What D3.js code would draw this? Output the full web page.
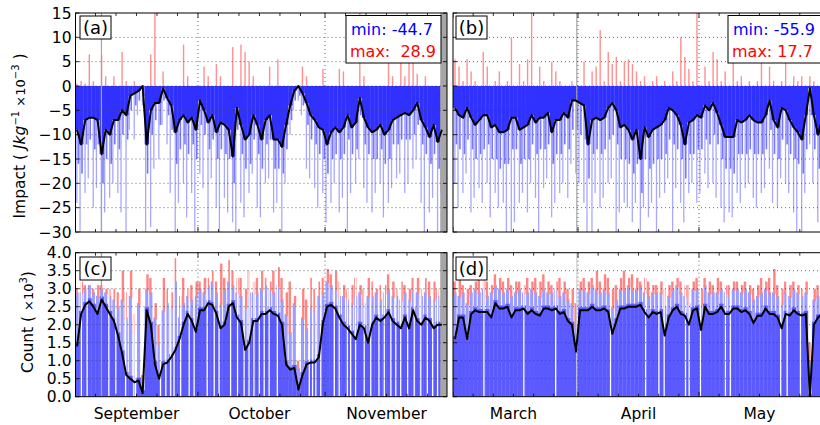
<!DOCTYPE html>
<html>
<head>
<meta charset="utf-8">
<script src="https://cdn.jsdelivr.net/npm/d3@7"></script>
<style>
body { margin: 0; background: #fff; }
svg text { font-family: "DejaVu Sans", sans-serif; }
</style>
</head>
<body>
<svg id="chart" width="820" height="425"></svg>
<script>
// ---- autumn (Sep 1 .. Nov 29), one value per day ----
const aMean = [-9,-12,-7,-6.5,-6.5,-7,-14,-9,-10,-7, -7,-5,-6,-2,-1.5,-1,0,-12,-5,-3.5,
  -3.5,-0.5,-2.5,-4,-9.5,-7,-6,-7.5,-6.5,-9, -3,-5,-7.5,-6,-9.5,-7.5,-8,-9,-14.5,-4.5,
  -8,-11,-10,-6,-8,-11,-7,-6,-11,-11, -12.5,-8,-4,-1,0,-1.5,-3.5,-6,-7,-8.5,
  -9,-12,-9.5,-8.5,-9.5,-8.5,-6,-8.5,-7.5,-2.5, -6.5,-8.5,-9.5,-9,-8,-10,-9,-7,-6.5,-6,
  -5.5,-6,-5,-3.5,-7,-8.5,-10.5,-8,-11.5,-9];
const aSpk1 = [-16,-18,-12,-11,-13,-12,-20,-15,-16,-12, -13,-10,-11,-5,-4,-3,-2,-18,-10,-7,
  -8,-3,-6,-9,-16,-13,-12,-14,-12,-15, -8,-10,-13,-11,-15,-13,-14,-15,-20,-9,
  -14,-17,-16,-11,-14,-17,-12,-11,-17,-17, -18,-13,-7,-3,-2,-4,-8,-11,-12,-14,
  -15,-18,-15,-14,-15,-14,-11,-14,-13,-6, -12,-14,-15,-15,-13,-16,-15,-12,-12,-11,
  -11,-11,-10,-8,-12,-14,-16,-14,-17,-15];
const aSpk2 = [-24,-30,-22,-19,-25,-21,-30,-26,-23,-20, -22,-26,-30,-9,-11,-6,-4,-30,-29,-17,
  -15,-8,-12,-22,-30,-24,-20,-27,-22,-30, -18,-21,-30,-19,-25,-30,-23,-26,-28,-30,
  -24,-27,-22,-18,-25,-27,-20,-19,-26,-24, -30,-20,-10,-5,-3,-6,-17,-19,-21,-25,
  -22,-28,-24,-20,-26,-23,-30,-22,-20,-15, -21,-24,-26,-22,-20,-27,-24,-21,-19,-18,
  -22,-20,-17,-15,-24,-30,-26,-23,-30,-22];
const aPos = [0.5,1,0.5,6.5,1,0,6.5,2,0,2, 0,7,1,0,1,0,0,0,6.5,15,
  0,3,0,0,0,0,8.5,2,0,0, 0,4,2,0,4.5,2,0,0,8,0,
  8.5,7,5,2,0,0,0,4,0,5.5, 0,0,0,0,0,4,2,0,0,0,
  3.5,0,0,0,3.5,3,0,0,0,15, 2,0,0,0,0,0,12,2,0,5,
  2,5.5,5.5,2.5,0,2,0,0,0,0];

const cMean = [1.4,2.3,2.55,2.65,2.5,2.3,2.7,2.5,2.3,2.1, 1.7,1.2,0.6,0.5,0.4,0.45,0.1,2.4,2.0,0.9,
  0.5,0.9,0.95,1.1,1.3,1.6,2.0,2.3,2.1,1.8, 2.4,2.4,2.6,2.55,2.3,1.9,2.0,2.5,2.6,2.2,
  2.05,1.3,1.5,2.1,2.1,2.3,2.3,2.4,2.3,2.25, 2.0,0.9,0.75,0.8,0.2,0.6,0.9,0.95,0.95,1.1,
  2.05,2.5,2.55,2.45,2.2,2.0,1.9,1.75,1.6,2.0, 1.9,1.5,2.0,2.2,2.1,2.2,2.35,2.1,2.0,1.9,
  2.2,1.9,2.4,2.1,2.0,2.2,2.1,1.9,2.0,2.0];
const cBlue = [2.9,2.9,3.0,3.1,2.9,2.8,3.0,2.9,2.8,2.7, 2.5,2.7,2.2,2.8,1.8,2.6,0.5,3.0,2.9,2.2,
  1.5,2.4,2.6,2.5,3.2,2.2,2.6,2.8,2.7,2.8, 3.0,2.9,3.1,3.2,2.9,2.6,3.0,3.2,3.1,2.9,
  2.8,2.5,2.9,2.9,2.9,3.0,3.1,3.0,2.9,3.1, 2.7,2.3,1.8,2.6,0.8,2.2,1.9,2.5,2.4,2.8,
  2.9,3.2,3.1,3.0,2.8,2.8,2.7,2.6,2.8,2.9, 2.6,2.8,2.8,2.9,2.7,2.9,3.0,2.8,2.8,2.7,
  2.9,2.7,3.0,2.9,2.8,2.9,2.8,2.7,2.8,2.7];
const cRed = [3.0,3.2,3.1,3.1,3.0,3.1,3.1,3.0,3.0,3.0, 2.9,3.5,2.9,3.5,2.3,3.0,0.6,3.4,3.3,2.6,
  2.0,3.3,3.0,2.9,3.85,2.8,3.3,3.0,3.1,3.2, 3.2,3.3,3.3,3.5,3.2,3.7,3.3,3.8,3.5,3.3,
  3.3,3.0,3.5,3.2,3.3,3.5,3.3,3.2,3.5,3.6, 3.3,2.9,3.2,2.8,1.0,3.0,2.7,3.3,3.0,3.2,
  3.3,3.55,3.4,3.5,3.2,3.1,3.0,3.1,3.3,3.1, 3.0,3.3,3.2,3.0,3.1,3.1,3.4,3.2,3.0,3.2,
  3.1,3.0,3.3,3.3,3.0,3.3,3.2,3.2,3.0,3.1];
const cGaps = [1.4,2.8,8.1,9.8,12.2,14.2,14.6,20.7,22,23.2,24,25.6,27.7,28.9,32.1,33.8,35,37.8,39.5,
  41.1,42.3,43.5,44.8,46,47.2,49.2,57,57.8,58.6,59.8,63.1,64.3,66.3,67.1,68.3,70.4,72,74,75.3,
  76.9,78.1,79.3,81,82.6,84.2,85.8,87.1,88.3];
const autumnMissing = [[6.3,6.6],[89.1,91]];

// ---- spring (Mar 1 .. May 31), one value per day ----
const bMean = [-4.5,-6,-6.5,-4.5,-6.5,-8,-7,-6,-6,-8.5, -8,-9.5,-9.5,-9,-6.5,-6.5,-9,-8.5,-8,-6,
  -7.5,-6.5,-6.5,-5.5,-9.5,-7,-7,-5.5,-6.5,-3, -3,-3.5,-4,-12,-7,-6.5,-7,-6.5,-4.5,-3.5,
  -5,-8.5,-8,-9,-11,-9,-15,-8.5,-10.5,-9, -8.5,-8,-7,-4.5,-5,-6,-8,-12,-7.5,-7,
  -6,-6.5,-4,-5,-3.5,-5.5,-8,-10.5,-10.5,-10.5, -7,-7.5,-7,-6,-7,-7.5,-7.5,-6,-3,-7,
  -8.5,-4.5,-5,-7,-8.5,-9.5,-11,-6,-0.5,-6, -10,-7];
const bSpk1 = [-12,-13,-14,-11,-13,-15,-14,-13,-12,-15, -15,-17,-16,-16,-13,-13,-16,-15,-15,-12,
  -14,-13,-13,-12,-16,-14,-14,-12,-13,-9, -9,-10,-11,-19,-14,-13,-14,-13,-11,-10,
  -12,-15,-15,-16,-18,-16,-22,-15,-17,-16, -15,-15,-14,-11,-12,-13,-15,-19,-14,-14,
  -13,-13,-11,-12,-10,-12,-15,-17,-17,-18, -14,-14,-14,-13,-14,-14,-14,-13,-9,-14,
  -15,-11,-12,-14,-15,-16,-18,-13,-6,-13, -17,-14];
const bSpk2 = [-20,-25,-22,-18,-26,-23,-21,-24,-20,-27, -22,-25,-24,-30,-30,-28,-24,-22,-26,-20,
  -23,-30,-21,-19,-27,-24,-22,-20,-23,-16, -18,-20,-24,-30,-30,-22,-25,-23,-20,-19,
  -30,-26,-24,-25,-28,-24,-30,-25,-27,-24, -30,-23,-22,-19,-30,-21,-24,-28,-22,-20,
  -24,-22,-18,-21,-20,-23,-25,-28,-26,-27, -22,-24,-21,-20,-23,-25,-22,-21,-17,-24,
  -25,-19,-20,-22,-26,-30,-30,-22,-12,-20, -28,-22];
const bPos = [5.5,4,1,5.5,3,1,0,7,4,0, 1,3,0,1,10,0,4.5,1,5.5,15,
  0,4,1,0,5,3,1,0,0,1, 0,0,5,0,3,4,11.5,1,7,4.5,
  6,1,5,5.5,4.5,3,1,2,0,1, 2,0,1,0,3,1,10,6,3.5,1,
  15,0,4,1,7,5.5,1,3,0,5, 1,2,0,1,0,1,6,0,4,1,
  0,1,5,0,2,1,2,0,2,1, 0,2];

const dMean = [1.6,2.2,2.2,1.6,2.3,2.4,2.35,2.35,2.35,2.2, 2.6,2.45,2.45,2.5,2.2,2.4,2.4,2.45,2.3,2.4,
  2.3,2.25,2.45,2.45,2.4,2.45,2.3,2.35,2.1,2.0, 1.25,2.4,2.4,2.4,2.5,2.4,2.4,2.45,2.35,1.75,
  2.1,2.45,2.45,2.5,2.5,2.5,2.55,2.35,2.2,2.35, 2.3,2.35,1.7,2.2,2.4,2.5,2.3,2.25,2.0,2.4,
  2.45,1.85,2.5,2.3,2.3,2.35,2.5,2.3,2.3,2.45, 2.45,2.35,2.4,2.3,2.05,2.25,2.25,2.45,2.3,2.3,
  2.2,1.9,2.3,2.25,2.4,2.3,2.25,2.3,0.0,2.0, 2.2,2.3];
const dBlue = [2.9,2.8,2.9,2.6,2.9,3.0,2.9,3.0,2.8,2.9, 3.1,3.0,2.9,3.0,2.8,2.9,3.0,2.9,2.9,3.0,
  2.9,2.8,3.0,2.9,2.9,3.0,2.8,2.9,2.7,2.6, 2.0,3.0,3.0,2.9,3.1,3.0,2.9,3.0,2.9,2.5,
  2.7,3.0,3.0,3.1,3.0,3.0,3.1,2.9,2.8,2.9, 2.9,2.9,2.5,2.8,3.0,3.1,2.9,2.8,2.6,3.0,
  3.0,2.6,3.1,2.9,2.9,2.9,3.0,2.9,2.8,3.0, 3.0,2.9,3.0,2.9,2.7,2.8,2.9,3.0,2.9,2.9,
  2.8,2.6,2.9,2.8,3.0,2.9,2.8,2.9,1.0,2.7, 2.8,2.9];
const dRed = [3.2,3.3,3.1,3.0,3.1,3.2,3.3,3.5,3.2,3.1, 3.4,3.3,3.2,3.3,3.1,3.2,3.2,3.1,3.3,3.2,
  3.3,3.2,3.4,3.2,3.1,3.2,3.3,3.2,3.0,3.0, 2.6,3.2,3.3,3.2,3.3,3.5,3.2,3.4,3.3,3.0,
  3.1,3.3,3.5,3.3,3.4,3.3,3.2,3.3,3.2,3.1, 3.1,3.2,3.0,3.1,3.2,3.3,3.2,3.1,3.1,3.2,
  3.3,3.0,3.3,3.2,3.1,3.3,3.2,3.1,3.1,3.2, 3.2,3.1,3.2,3.1,3.0,3.1,3.3,3.2,3.3,3.55,
  3.1,3.0,3.2,3.1,3.2,3.1,3.0,3.2,1.5,3.0, 3.1,3.2];
const dGaps = [7.5,17.4,25.3,38.9,47.6,50.9,52.2,57.5,58.4,61.2,67.4,68.6,81.1,82.7,86.0];
const springMissing = [[30.55,30.85]];

const impactTicks = [-30,-25,-20,-15,-10,-5,0,5,10,15];
const countTicks = [0,0.5,1,1.5,2,2.5,3,3.5,4];

const svg = d3.select("#chart");

const autumn = [new Date(Date.UTC(2013,8,1)), new Date(Date.UTC(2013,11,1))];
const spring = [new Date(Date.UTC(2014,2,1)), new Date(Date.UTC(2014,5,1))];
const xAut = d3.scaleUtc().domain(autumn).range([75,448]);
const xSpr = d3.scaleUtc().domain(spring).range([453,824]);
const yImp = d3.scaleLinear().domain([-30,15]).range([232,13]);
const yCnt = d3.scaleLinear().domain([0,4]).range([396.7,252.7]);

const dayAt = (start, d) => new Date(start.getTime() + d*864e5);

let clipN = 0;
function frame(x, y, x0, x1) {
  const g = svg.append("g");
  const id = "clip" + (clipN++);
  svg.append("clipPath").attr("id", id).append("rect")
    .attr("x", x0).attr("y", y.range()[1]).attr("width", x1-x0).attr("height", y.range()[0]-y.range()[1]);
  const body = g.append("g").attr("clip-path", "url(#"+id+")");
  return {g, body};
}

function missing(body, x, y, start, list, col) {
  body.selectAll(null).data(list).join("rect")
    .attr("x", d => x(dayAt(start, d[0]))).attr("width", d => x(dayAt(start, d[1])) - x(dayAt(start, d[0])))
    .attr("y", y.range()[1]).attr("height", y.range()[0]-y.range()[1]).attr("fill", col);
}

function gridAndAxes(p, x, y, start, x0, x1, yt, showY, fmt) {
  const top = y.range()[1], bot = y.range()[0];
  const months = d3.utcMonth.range(x.domain()[0], x.domain()[1]);
  // dotted grid
  p.body.selectAll(null).data(yt.slice(1, -1)).join("line")
    .attr("x1", x0).attr("x2", x1).attr("y1", d => y(d)).attr("y2", d => y(d))
    .attr("stroke", "#444").attr("stroke-width", 0.8).attr("stroke-dasharray", "1,3");
  p.body.selectAll(null).data(months.slice(1)).join("line")
    .attr("x1", d => x(d)).attr("x2", d => x(d)).attr("y1", top).attr("y2", bot)
    .attr("stroke", "#444").attr("stroke-width", 0.8).attr("stroke-dasharray", "1,3");
  // minor ticks every 5 days, inward
  const minor = d3.utcDay.range(x.domain()[0], x.domain()[1]).filter(d => (d.getUTCDate()-1) % 5 === 0 && d.getUTCDate() < 30);
  p.body.selectAll(null).data(minor).join("path")
    .attr("d", d => `M${x(d)},${top}v${d.getUTCDate()===1?5:3}M${x(d)},${bot}v${d.getUTCDate()===1?-5:-3}`)
    .attr("stroke", "#000").attr("stroke-width", 0.8);
  p.g.selectAll(null).data(yt).join("path")
    .attr("d", d => `M${x0},${y(d)}h4M${x1},${y(d)}h-4`)
    .attr("stroke", "#000").attr("stroke-width", 0.8);
  p.g.append("rect").attr("x", x0).attr("y", top).attr("width", x1-x0).attr("height", bot-top)
    .attr("fill", "none").attr("stroke", "#000").attr("stroke-width", 1);
  if (showY) {
    p.g.selectAll(null).data(yt).join("text")
      .attr("x", x0-4).attr("y", d => y(d)).attr("dy", "0.36em").attr("text-anchor", "end")
      .style("font-size", "15.5px").text(fmt);
  }
  return months;
}

function tag(x0, y0, w, label) {
  svg.append("rect").attr("x", x0).attr("y", y0).attr("width", w).attr("height", 23)
    .attr("fill", "#fff").attr("stroke", "#000").attr("stroke-width", 1);
  svg.append("text").attr("x", x0+w/2).attr("y", y0+18).attr("text-anchor", "middle")
    .style("font-size", "18px").text(label);
}

function legend(x0, minTxt, maxTxt) {
  svg.append("rect").attr("x", x0).attr("y", 15.5).attr("width", 95).attr("height", 47.5)
    .attr("fill", "#fff").attr("stroke", "#000").attr("stroke-width", 1);
  svg.append("text").attr("x", x0+5).attr("y", 35).attr("fill", "#0000ff")
    .style("font-size", "16px").style("white-space", "pre").text(minTxt);
  svg.append("text").attr("x", x0+4).attr("y", 57).attr("fill", "#ff0000")
    .style("font-size", "16px").style("white-space", "pre").text(maxTxt);
}

function impactPanel(x, start, x0, x1, mean, s1, s2, pos, miss) {
  const p = frame(x, yImp, x0, x1);
  const xd = i => x(dayAt(start, i));
  const days = d3.range(mean.length);
  // deep single-cycle spikes (thin, pale), then typical cycles, then the dense band
  p.body.selectAll(null).data(days).join("rect")
    .attr("x", i => xd(i) + (i % 2 ? 0.3 : 1.2)).attr("width", 1.3).attr("y", yImp(0))
    .attr("height", i => yImp(s2[i]) - yImp(0)).attr("fill", "#a8a8ff");
  p.body.selectAll(null).data(days).join("rect")
    .attr("x", i => xd(i) + (i % 2 ? 2.1 : 2.6)).attr("width", 1.6).attr("y", yImp(0))
    .attr("height", i => yImp(s1[i]) - yImp(0)).attr("fill", "#7676ff");
  p.body.selectAll(null).data(days).join("rect")
    .attr("x", i => xd(i)).attr("width", i => xd(i+1)-xd(i)+0.3).attr("y", yImp(0))
    .attr("height", i => yImp(mean[i]) - yImp(0)).attr("fill", "#3030ff");
  p.body.selectAll(null).data(days.filter(i => pos[i] > 0)).join("rect")
    .attr("x", i => xd(i)+1.3).attr("width", 1.4).attr("y", i => yImp(pos[i]))
    .attr("height", i => yImp(0) - yImp(pos[i])).attr("fill", "#ff9090");
  missing(p.body, x, yImp, start, miss, "#a6a6a6");
  gridAndAxes(p, x, yImp, start, x0, x1, impactTicks, x0 < 100, d => d3.format("d")(d).replace("-", "\u2212"));
  p.body.append("path").datum(mean)
    .attr("d", d3.line().x((v, i) => x(dayAt(start, i+0.5))).y(v => yImp(v)))
    .attr("fill", "none").attr("stroke", "#000").attr("stroke-width", 2).attr("stroke-linejoin", "round");
}

function countPanel(x, start, x0, x1, mean, blue, red, gaps, miss, gapCol) {
  const p = frame(x, yCnt, x0, x1);
  const xd = i => x(dayAt(start, i));
  const days = d3.range(mean.length);
  // pale blue cycle bars, red excess stacked on top of them, solid band up to the mean
  p.body.selectAll(null).data(days).join("rect")
    .attr("x", i => xd(i) + 0.5).attr("width", 3.1).attr("y", i => yCnt(blue[i]))
    .attr("height", i => yCnt(0) - yCnt(blue[i])).attr("fill", "#9c9cff");
  p.body.selectAll(null).data(days.filter(i => red[i] > blue[i])).join("rect")
    .attr("x", i => xd(i) + (i % 2 ? 1.6 : 0.4)).attr("width", 2.4).attr("y", i => yCnt(red[i]))
    .attr("height", i => yCnt(blue[i]) - yCnt(red[i]) + 2).attr("fill", "#ff8484");
  p.body.selectAll(null).data(days).join("rect")
    .attr("x", i => xd(i)).attr("width", i => xd(i+1)-xd(i)+0.3).attr("y", i => yCnt(mean[i]) - 3)
    .attr("height", i => yCnt(0) - yCnt(mean[i]) + 3).attr("fill", "#5a5aff");
  p.body.selectAll(null).data(gaps).join("rect")
    .attr("x", d => xd(d)).attr("width", 1.3).attr("y", yCnt.range()[1])
    .attr("height", yCnt.range()[0] - yCnt.range()[1]).attr("fill", "#fff");
  missing(p.body, x, yCnt, start, miss, gapCol);
  const months = gridAndAxes(p, x, yCnt, start, x0, x1, countTicks, x0 < 100, d3.format(".1f"));
  p.body.append("path").datum(mean)
    .attr("d", d3.line().x((v, i) => x(dayAt(start, i+0.5))).y(v => yCnt(v)))
    .attr("fill", "none").attr("stroke", "#000").attr("stroke-width", 2).attr("stroke-linejoin", "round");
  // month names centred on the 16th
  svg.selectAll(null).data(months).join("text")
    .attr("x", d => x(d3.utcDay.offset(d, 15))).attr("y", 419).attr("text-anchor", "middle")
    .style("font-size", "15.5px").text(d3.utcFormat("%B"));
}

impactPanel(xAut, autumn[0], 75.5, 447, aMean, aSpk1, aSpk2, aPos, autumnMissing);
impactPanel(xSpr, spring[0], 453, 824, bMean, bSpk1, bSpk2, bPos, springMissing);
countPanel(xAut, autumn[0], 75.5, 447, cMean, cBlue, cRed, cGaps, autumnMissing, "#a6a6a6");
countPanel(xSpr, spring[0], 453, 824, dMean, dBlue, dRed, dGaps, springMissing, "#d0d0d0");

tag(80, 16, 31, "(a)");
tag(456, 16, 31, "(b)");
tag(80, 257, 31, "(c)");
tag(456, 257, 31, "(d)");
legend(346, "min: -44.7", "max:  28.9");
legend(728, "min: -55.9", "max: 17.7");

// y axis titles
const impLab = svg.append("text").attr("transform", "translate(25,136) rotate(-90)")
  .attr("text-anchor", "middle").style("font-size", "15.5px");
impLab.append("tspan").text("Impact ( ");
impLab.append("tspan").style("font-style", "italic").text("Jkg");
impLab.append("tspan").attr("dy", -6).style("font-size", "10px").text("\u22121");
impLab.append("tspan").attr("dy", 6).style("font-size", "13px").text(" \u00d710");
impLab.append("tspan").attr("dy", -6).style("font-size", "10px").text("\u22123");
impLab.append("tspan").attr("dy", 6).text(" )");

const cntLab = svg.append("text").attr("transform", "translate(33,322) rotate(-90)")
  .attr("text-anchor", "middle").style("font-size", "15.5px");
cntLab.append("tspan").text("Count ( ");
cntLab.append("tspan").style("font-size", "13px").text("\u00d710");
cntLab.append("tspan").attr("dy", -6).style("font-size", "10px").text("3");
cntLab.append("tspan").attr("dy", 6).text(")");
</script>
</body>
</html>
